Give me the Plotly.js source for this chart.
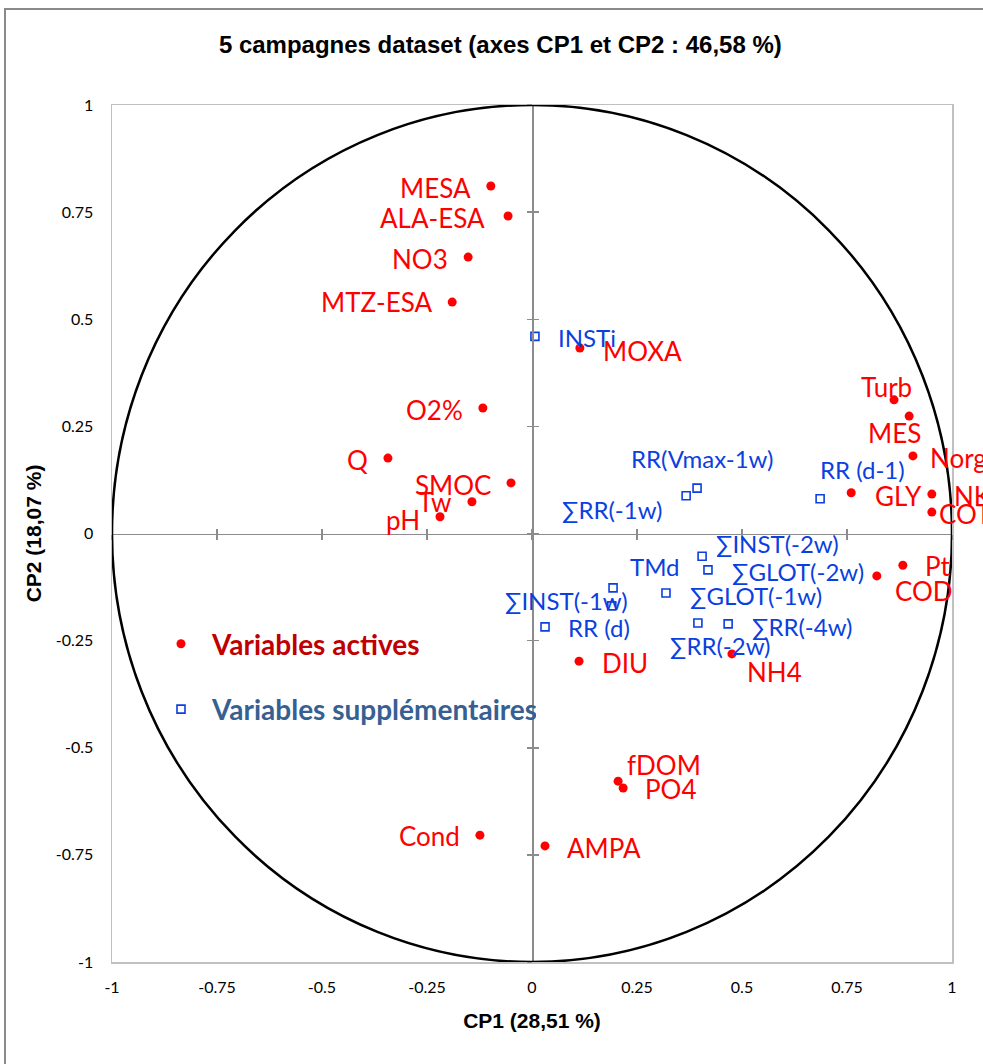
<!DOCTYPE html>
<html>
<head>
<meta charset="utf-8">
<script src="https://cdn.plot.ly/plotly-3.0.1.min.js"></script>
<style>html,body{margin:0;padding:0;background:#fff;}#chart{width:983px;height:1064px;}</style>
</head>
<body>
<div id="chart"></div>
<script>
// ---- Data ----
const activeNames = ["MESA","ALA-ESA","NO3","MTZ-ESA","MOXA","O2%","Q","SMOC","Tw","pH","Turb","MES","Norg","GLY","NK","COT","Pt","COD","NH4","DIU","fDOM","PO4","Cond","AMPA"];
const activeCP1 = [-0.098,-0.057,-0.152,-0.190,0.114,-0.117,-0.343,-0.050,-0.143,-0.219,0.862,0.898,0.907,0.760,0.952,0.952,0.883,0.821,0.476,0.112,0.205,0.217,-0.124,0.031];
const activeCP2 = [0.811,0.741,0.645,0.540,0.433,0.293,0.176,0.118,0.074,0.039,0.312,0.274,0.181,0.095,0.092,0.050,-0.074,-0.099,-0.281,-0.298,-0.578,-0.594,-0.704,-0.729];

const suppNames = ["INSTi","RR(Vmax-1w)","\u2211RR(-1w)","RR (d-1)","\u2211INST(-2w)","\u2211GLOT(-2w)","TMd","\u2211GLOT(-1w)","\u2211INST(-1w)","RR (d)","\u2211RR(-2w)","\u2211RR(-4w)"];
const suppCP1 = [0.007,0.393,0.367,0.686,0.405,0.419,0.193,0.319,0.190,0.031,0.395,0.467];
const suppCP2 = [0.460,0.106,0.088,0.081,-0.053,-0.085,-0.127,-0.139,-0.169,-0.218,-0.209,-0.211];

const tickVals = [-1,-0.75,-0.5,-0.25,0,0.25,0.5,0.75,1];
const tickText = ["-1","-0.75","-0.5","-0.25","0","0.25","0.5","0.75","1"];

const titleText = "5 campagnes dataset (axes CP1 et CP2 : 46,58 %)";
const xTitle = "CP1 (28,51 %)";
const yTitle = "CP2 (18,07 %)";
const seriesNames = ["Variables actives","Variables suppl\u00e9mentaires"];

// ---- Label placement (style): [anchor, dx px, dy px (down positive)] ----
const activeLabelPlace = [
  ["right",-18,2],["right",-21,2],["right",-18,2],["right",-18,0],["left",21,3],["right",-18,2],["right",-18,2],["right",-18,2],["right",-18,0],["right",-18,3],
  ["center",-8,-13],["center",-15,17],["left",15,2],["left",22,3],["left",20,2],["left",5,2],["left",20,1],["left",16,15],["left",13,18],["left",21,2],
  ["left",7,-16],["left",20,1],["right",-18,1],["left",20,2]
];
const suppLabelPlace = [
  ["left",21,1],["center",5,-30],["right",-21,14],["left",-2,-29],["left",12,-13],["left",22,2],["left",15,-21],["left",22,2],["right",18,-5],["left",21,1],["center",23,22],["left",22,3]
];

const RED = "#FF0000";
const BLUE = "#0B3FE0";
const LBL_FONT = "Lato, 'Open Sans', sans-serif";
const HEAD_FONT = "'Liberation Sans', Arial, sans-serif";

const traces = [
  {
    type: "scatter", mode: "markers", name: seriesNames[0],
    x: activeCP1, y: activeCP2,
    marker: {color: RED, size: 9, symbol: "circle"},
    cliponaxis: false, legendgroup: "a"
  },
  {
    type: "scatter", mode: "markers", name: seriesNames[1],
    x: suppCP1, y: suppCP2,
    marker: {color: BLUE, size: 8, symbol: "square-open", line: {color: BLUE, width: 1.6}},
    cliponaxis: false, legendgroup: "b"
  },
  // empty traces to register the centre cross axes
  {type: "scatter", x: [], y: [], xaxis: "x2", yaxis: "y2", showlegend: false, hoverinfo: "skip"},
  {type: "scatter", x: [], y: [], xaxis: "x3", yaxis: "y3", showlegend: false, hoverinfo: "skip"}
];

function labels(names, xs, ys, place, color, size) {
  return names.map((n, i) => ({
    x: xs[i], y: ys[i], xref: "x", yref: "y", text: n, showarrow: false,
    xanchor: place[i][0], yanchor: "middle", xshift: place[i][1], yshift: -place[i][2],
    font: {family: LBL_FONT, size: size, color: color}
  }));
}
const annotations = labels(activeNames, activeCP1, activeCP2, activeLabelPlace, RED, 26)
  .concat(labels(suppNames, suppCP1, suppCP2, suppLabelPlace, BLUE, 24));

const centreAxis = (ticks) => ({
  range: [-1, 1], tickvals: tickVals, ticks: ticks, ticklen: 5, tickwidth: 1.5, tickcolor: "#8c8c8c",
  showticklabels: false, showline: true, linecolor: "#8c8c8c", linewidth: 1.5,
  showgrid: false, zeroline: false, anchor: "free", position: 0.5, fixedrange: true
});

const layout = {
  width: 983, height: 1064,
  margin: {l: 112, r: 31, t: 105, b: 102},
  paper_bgcolor: "#fff", plot_bgcolor: "#fff",
  showlegend: true,
  title: {
    text: "<b>" + titleText + "</b>",
    font: {family: HEAD_FONT, size: 24, color: "#000"},
    xref: "container", x: 0.509, xanchor: "center",
    yref: "container", y: 1 - 45/1064, yanchor: "middle"
  },
  xaxis: {
    range: [-1, 1], tickvals: tickVals, ticktext: tickText, showgrid: false, zeroline: false,
    showline: true, mirror: true, linecolor: "#c0c0c0", linewidth: 1.5, ticks: "",
    tickfont: {family: LBL_FONT, size: 16, color: "#000"}, ticklabelstandoff: 10,
    title: {text: "<b>" + xTitle + "</b>", font: {family: HEAD_FONT, size: 21, color: "#000"}, standoff: 18},
    fixedrange: true
  },
  yaxis: {
    range: [-1, 1], tickvals: tickVals, ticktext: tickText, showgrid: false, zeroline: false,
    showline: true, mirror: true, linecolor: "#c0c0c0", linewidth: 1.5, ticks: "",
    tickfont: {family: LBL_FONT, size: 16, color: "#000"}, ticklabelstandoff: 14,
    title: {text: "<b>" + yTitle + "</b>", font: {family: HEAD_FONT, size: 21, color: "#000"}, standoff: 8},
    fixedrange: true
  },
  xaxis2: Object.assign(centreAxis("outside"), {overlaying: "x"}),
  xaxis3: Object.assign(centreAxis("inside"), {overlaying: "x"}),
  yaxis2: Object.assign(centreAxis("outside"), {overlaying: "y"}),
  yaxis3: Object.assign(centreAxis("inside"), {overlaying: "y"}),
  legend: {
    x: (150 - 112) / 840, y: (962 - 619) / 857, xanchor: "left", yanchor: "top",
    bgcolor: "rgba(0,0,0,0)", borderwidth: 0, itemwidth: 52, tracegroupgap: 26,
    font: {family: LBL_FONT, size: 28}
  },
  annotations: annotations,
  shapes: [
    {type: "circle", xref: "x", yref: "y", x0: -1, y0: -1, x1: 1, y1: 1, line: {color: "#000", width: 2.5}, layer: "above"},
    {type: "rect", xref: "paper", yref: "paper", x0: (5 - 112)/840, x1: 1.2, y0: -0.3, y1: (962 - 9)/857, line: {color: "#8a8a8a", width: 2}, layer: "below"}
  ]
};

Plotly.newPlot("chart", traces, layout, {staticPlot: true}).then(() => {
  // colour legend texts per series
  const cols = ["#C00000", "#376092"];
  document.querySelectorAll(".legend .traces").forEach((g, i) => {
    const t = g.querySelector("text.legendtext");
    if (t) { t.style.fill = cols[i] || "#000"; t.style.fontWeight = "bold"; }
  });
});
</script>
</body>
</html>
